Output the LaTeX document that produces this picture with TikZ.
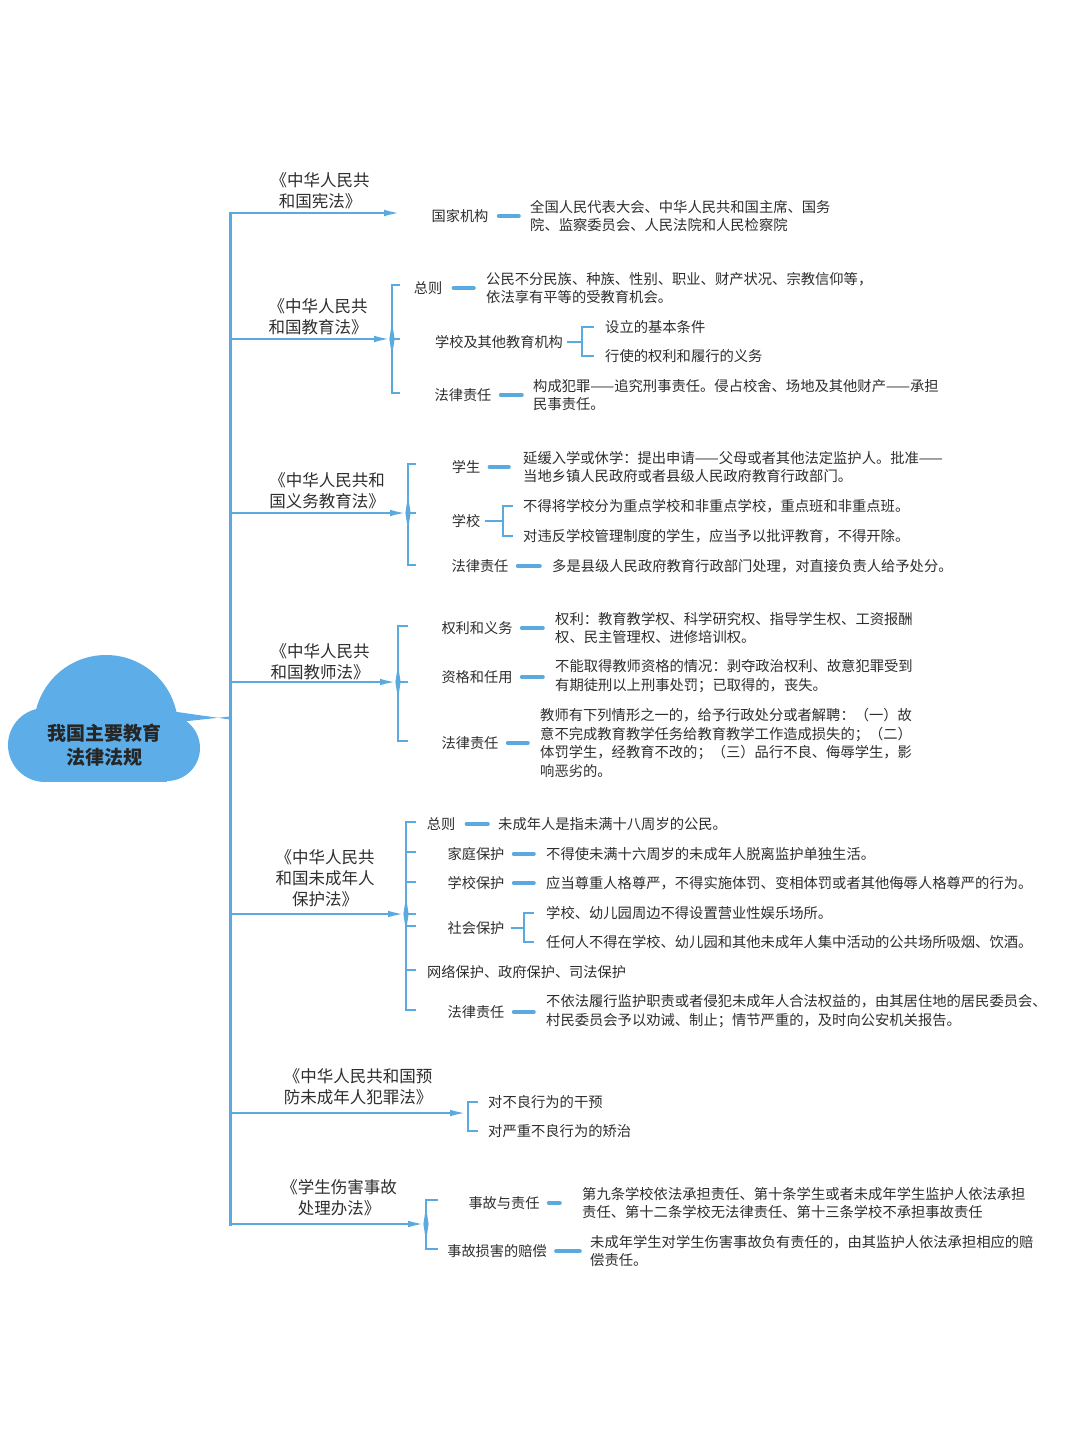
\documentclass[tikz,border=0pt]{standalone}
\usepackage{fontspec}
\setmainfont{Noto Sans CJK SC}
\usetikzlibrary{arrows.meta}
\definecolor{lb}{HTML}{5AAAE0}
\definecolor{cl}{HTML}{5DAEE8}
\definecolor{tc}{HTML}{2E2E2E}
\tikzset{
 ttl/.style={font=\fontsize{16.5}{21}\selectfont, align=center, text=tc, inner sep=0pt},
 cat/.style={font=\fontsize{14.2}{18}\selectfont, text=tc, inner sep=0pt},
 det/.style={font=\fontsize{14.3}{18.5}\selectfont, align=left, anchor=west, text=tc, inner sep=0pt},
 br/.style={draw=lb, line width=2.4pt},
 trunk/.style={draw=lb, line width=3pt, line cap=rect},
 dsh/.style={draw=lb, line width=3.5pt, line cap=round},
 arr/.style={draw=lb, line width=2.6pt, -{Latex[length=18pt,width=6.5pt]}},
 knot/.pic={\fill[lb] (0,-17) -- (2.6,0) -- (0,17) -- (-2.6,0) -- cycle;},
}
\begin{document}
\begin{tikzpicture}[x=1pt,y=-1pt]
\useasboundingbox[fill=white] (0,0) rectangle (1080,1443);
% ---------- cloud ----------
\begin{scope}
 \clip (0,640) rectangle (220,770);
 \fill[cl] (106,727) circle (72pt);
\end{scope}
\fill[cl] (45,745) circle (37pt);
\fill[cl] (167,748) circle (33pt);
\fill[cl] (45,745) rectangle (167,782);
\node[font=\fontsize{19}{24}\selectfont\bfseries, align=center, text=black!85, inner sep=0pt] (root) at (104,745) {我国主要教育\\法律法规};
\coordinate (rootc) at (170,711);
% ---------- trunk ----------
\coordinate (t1) at (230,213);
\coordinate (t2) at (230,339);
\coordinate (t3) at (230,513);
\coordinate (t4) at (230,682);
\coordinate (t5) at (230,914);
\coordinate (t6) at (230,1113);
\coordinate (t7) at (230,1224);
\coordinate (tr) at (230,718);
\fill[cl] (rootc) -- ([yshift=-1.5pt]tr) -- ([yshift=1.5pt]tr) -- (188,721) -- (172,724) -- cycle;
\draw[trunk] (t1) -- (t7);
% ---------- branch 1 ----------
\node[ttl] (n1) at (320,191) {《中华人民共\\和国宪法》};
\coordinate (b1) at (402,213);
\draw[arr] (t1) -- (b1);
\node[cat] (k11) at (460,216) {国家机构};
\node[det] (d11) at (530,216) {全国人民代表大会、中华人民共和国主席、国务\\院、监察委员会、人民法院和人民检察院};
\draw[dsh] ([xshift=10pt]k11.east) -- ([xshift=-11pt]k11.east -| d11.west);
% ---------- branch 2 ----------
\node[ttl] (n2) at (318,317) {《中华人民共\\和国教育法》};
\coordinate (b2) at (392,339);
\draw[arr] (t2) -- (b2);
\node[cat] (k21) at (428,288) {总则};
\node[det] (d21) at (486,288) {公民不分民族、种族、性别、职业、财产状况、宗教信仰等，\\依法享有平等的受教育机会。};
\node[cat] (k22) at (499,342) {学校及其他教育机构};
\node[det] (s221) at (605,327) {设立的基本条件};
\node[det] (s222) at (605,356) {行使的权利和履行的义务};
\node[cat] (k23) at (463,395) {法律责任};
\node[det] (d23) at (533,395) {构成犯罪——追究刑事责任。侵占校舍、场地及其他财产——承担\\民事责任。};
\draw[br] ([xshift=8pt]b2 |- 0,285) -- (b2 |- 0,285) -- (b2 |- 0,393) -- ([xshift=8pt]b2 |- 0,393);
\draw[br] (b2) -- ++(8,0);
\pic at (b2) {knot};
\draw[dsh] ([xshift=11pt]k21.east) -- ([xshift=-12pt]k21.east -| d21.west);
\draw[dsh] ([xshift=9pt]k23.east) -- ([xshift=-11pt]k23.east -| d23.west);
\draw[br] ([xshift=4pt]k22.east) -- ([xshift=-23pt]k22.east -| s221.west);
\draw[br] ([xshift=-11pt]s221.west) -| ([xshift=-23pt]s222.west) -- ([xshift=-11pt]s222.west);
% ---------- branch 3 ----------
\node[ttl] (n3) at (327,491) {《中华人民共和\\国义务教育法》};
\coordinate (b3) at (408,513);
\draw[arr] (t3) -- (b3);
\node[cat] (k31) at (466,467) {学生};
\node[det] (d31) at (523,467) {延缓入学或休学：提出申请——父母或者其他法定监护人。批准——\\当地乡镇人民政府或者县级人民政府教育行政部门。};
\node[cat] (k32) at (466,521) {学校};
\node[det] (s321) at (523,506) {不得将学校分为重点学校和非重点学校，重点班和非重点班。};
\node[det] (s322) at (523,536) {对违反学校管理制度的学生，应当予以批评教育，不得开除。};
\node[cat] (k33) at (480,566) {法律责任};
\node[det] (d33) at (552,566) {多是县级人民政府教育行政部门处理，对直接负责人给予处分。};
\draw[br] ([xshift=8pt]b3 |- 0,464) -- (b3 |- 0,464) -- (b3 |- 0,565) -- ([xshift=8pt]b3 |- 0,565);
\draw[br] (b3) -- ++(8,0);
\pic at (b3) {knot};
\draw[dsh] ([xshift=9pt]k31.east) -- ([xshift=-14pt]k31.east -| d31.west);
\draw[dsh] ([xshift=9pt]k33.east) -- ([xshift=-12pt]k33.east -| d33.west);
\draw[br] ([xshift=5pt]k32.east) -- ([xshift=-20pt]k32.east -| s321.west);
\draw[br] ([xshift=-10pt]s321.west) -| ([xshift=-20pt]s322.west) -- ([xshift=-10pt]s322.west);
% ---------- branch 4 ----------
\node[ttl] (n4) at (320,662) {《中华人民共\\和国教师法》};
\coordinate (b4) at (398,682);
\draw[arr] (t4) -- (b4);
\node[cat] (k41) at (477,628) {权利和义务};
\node[det] (d41) at (555,628) {权利：教育教学权、科学研究权、指导学生权、工资报酬\\权、民主管理权、进修培训权。};
\node[cat] (k42) at (477,677) {资格和任用};
\node[det] (d42) at (555,676) {不能取得教师资格的情况：剥夺政治权利、故意犯罪受到\\有期徒刑以上刑事处罚；已取得的，丧失。};
\node[cat] (k43) at (470,743) {法律责任};
\node[det] (d43) at (540,743) {教师有下列情形之一的，给予行政处分或者解聘：（一）故\\意不完成教育教学任务给教育教学工作造成损失的；（二）\\体罚学生，经教育不改的；（三）品行不良、侮辱学生，影\\响恶劣的。};
\draw[br] ([xshift=10pt]b4 |- 0,626) -- (b4 |- 0,626) -- (b4 |- 0,741) -- ([xshift=10pt]b4 |- 0,741);
\draw[br] (b4) -- ++(10,0);
\pic at (b4) {knot};
\draw[dsh] ([xshift=9pt]k41.east) -- ([xshift=-12pt]k41.east -| d41.west);
\draw[dsh] ([xshift=9pt]k42.east) -- ([xshift=-12pt]k42.east -| d42.west);
\draw[dsh] ([xshift=9pt]k43.east) -- ([xshift=-12pt]k43.east -| d43.west);
% ---------- branch 5 ----------
\node[ttl] (n5) at (325,878) {《中华人民共\\和国未成年人\\保护法》};
\coordinate (b5) at (406,914);
\draw[arr] (t5) -- (b5);
\node[cat] (k51) at (441,824) {总则};
\node[det] (d51) at (498,824) {未成年人是指未满十八周岁的公民。};
\node[cat] (k52) at (476,854) {家庭保护};
\node[det] (d52) at (546,854) {不得使未满十六周岁的未成年人脱离监护单独生活。};
\node[cat] (k53) at (476,883) {学校保护};
\node[det] (d53) at (546,883) {应当尊重人格尊严，不得实施体罚、变相体罚或者其他侮辱人格尊严的行为。};
\node[cat] (k54) at (476,928) {社会保护};
\node[det] (s541) at (546,913) {学校、幼儿园周边不得设置营业性娱乐场所。};
\node[det] (s542) at (546,942) {任何人不得在学校、幼儿园和其他未成年人集中活动的公共场所吸烟、饮酒。};
\node[cat, anchor=west] (k55) at (427,972) {网络保护、政府保护、司法保护};
\node[cat] (k56) at (476,1012) {法律责任};
\node[det] (d56) at (546,1011) {不依法履行监护职责或者侵犯未成年人合法权益的，由其居住地的居民委员会、\\村民委员会予以劝诫、制止；情节严重的，及时向公安机关报告。};
\draw[br] ([xshift=10pt]b5 |- 0,822) -- (b5 |- 0,822) -- (b5 |- 0,1010) -- ([xshift=10pt]b5 |- 0,1010);
\foreach \yy in {852,882,914,926,970} \draw[br] (b5 |- 0,\yy) -- ++(10,0);
\pic at (b5) {knot};
\draw[dsh] ([xshift=11pt]k51.east) -- ([xshift=-10pt]k51.east -| d51.west);
\draw[dsh] ([xshift=9pt]k52.east) -- ([xshift=-12pt]k52.east -| d52.west);
\draw[dsh] ([xshift=9pt]k53.east) -- ([xshift=-12pt]k53.east -| d53.west);
\draw[dsh] ([xshift=9pt]k56.east) -- ([xshift=-12pt]k56.east -| d56.west);
\draw[br] ([xshift=6pt]k54.east) -- ([xshift=-22pt]k54.east -| s541.west);
\draw[br] ([xshift=-12pt]s541.west) -| ([xshift=-22pt]s542.west) -- ([xshift=-12pt]s542.west);
% ---------- branch 6 ----------
\node[ttl] (n6) at (358,1087) {《中华人民共和国预\\防未成年人犯罪法》};
\coordinate (b6) at (468,1113);
\draw[arr] (t6) -- (b6);
\node[det] (s61) at (488,1102) {对不良行为的干预};
\node[det] (s62) at (488,1131) {对严重不良行为的矫治};
\draw[br] ([xshift=-10pt]s61.west) -| ([xshift=-20pt]s62.west) -- ([xshift=-10pt]s62.west);
% ---------- branch 7 ----------
\node[ttl] (n7) at (339,1198) {《学生伤害事故\\处理办法》};
\coordinate (b7) at (426,1224);
\draw[arr] (t7) -- (b7);
\node[cat] (k71) at (504,1203) {事故与责任};
\node[det] (d71) at (582,1203) {第九条学校依法承担责任、第十条学生或者未成年学生监护人依法承担\\责任、第十二条学校无法律责任、第十三条学校不承担事故责任};
\node[cat] (k72) at (497,1251) {事故损害的赔偿};
\node[det] (d72) at (590,1251) {未成年学生对学生伤害事故负有责任的，由其监护人依法承担相应的赔\\偿责任。};
\draw[br] ([xshift=12pt]b7 |- 0,1200) -- (b7 |- 0,1200) -- (b7 |- 0,1249) -- ([xshift=12pt]b7 |- 0,1249);
\pic at (b7) {knot};
\draw[dsh] ([xshift=9pt]k71.east) -- ([xshift=-22pt]k71.east -| d71.west);
\draw[dsh] ([xshift=9pt]k72.east) -- ([xshift=-10pt]k72.east -| d72.west);
\end{tikzpicture}
\end{document}
